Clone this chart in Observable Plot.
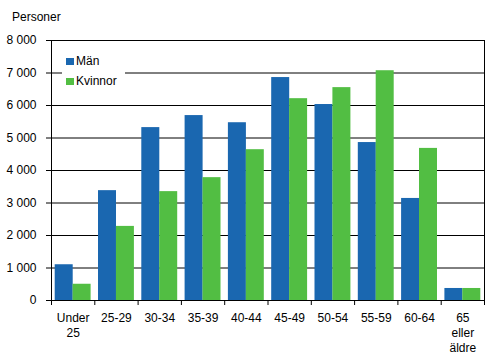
<!DOCTYPE html>
<html>
<head>
<meta charset="utf-8">
<script src="https://cdn.jsdelivr.net/npm/d3@7"></script>
<script src="https://cdn.jsdelivr.net/npm/@observablehq/plot@0.6"></script>
<style>
  html, body { margin: 0; padding: 0; background: #fff; }
  #wrap { position: relative; width: 496px; height: 361px; font-family: "Liberation Sans", Arial, sans-serif; font-size: 12px; color: #000; }
  #title { position: absolute; left: 12px; top: 10px; line-height: 14px; }
  #legend { position: absolute; left: 62px; top: 50px; width: 63px; height: 42px; background: #fff; }
  .item { position: absolute; left: 4px; height: 14px; line-height: 14px; white-space: nowrap; }
  .sw { display: inline-block; width: 8px; height: 7px; margin-right: 2px; vertical-align: 0px; }
</style>
</head>
<body>
<div id="wrap">
  <div id="chart"></div>
  <div id="title">Personer</div>
  <div id="legend"></div>
</div>
<script>
const categories = ["Under\n25", "25-29", "30-34", "35-39", "40-44", "45-49", "50-54", "55-59", "60-64", "65\neller\näldre"];
const men   = [1100, 3380, 5320, 5690, 5470, 6860, 6030, 4860, 3140, 370];
const women = [500, 2280, 3350, 3780, 4640, 6210, 6550, 7070, 4680, 370];
const yTicks = [0, 1000, 2000, 3000, 4000, 5000, 6000, 7000, 8000];
const seriesNames = ["Män", "Kvinnor"];
const colors = ["#1a67b0", "#52be43"];

const data = categories.map((c, i) => ({i, c, men: men[i], women: women[i]}));
const fmt = d => d3.format(",")(d).replace(/,/g, " ");

const chart = Plot.plot({
  width: 496, height: 361,
  marginLeft: 51, marginRight: 12, marginTop: 40, marginBottom: 61,
  style: {fontFamily: "'Liberation Sans', Arial, sans-serif", fontSize: "12px", color: "#000", background: "#fff"},
  x: {domain: [0, categories.length], label: null, axis: null},
  y: {domain: [0, 8000], label: null, axis: null},
  marks: [
    Plot.gridY(yTicks, {stroke: "#000", strokeOpacity: 1}),
    Plot.rectY(data, {x1: "i", x2: d => d.i + 1, y: "men", fill: colors[0], insetLeft: 3.7, insetRight: 21.6}),
    Plot.rectY(data, {x1: "i", x2: d => d.i + 1, y: "women", fill: colors[1], insetLeft: 21.6, insetRight: 3.7}),
    Plot.ruleX([0, categories.length], {stroke: "#000"}),
    Plot.ruleY([0], {stroke: "#000"}),
    Plot.axisY(yTicks, {tickSize: 5, tickPadding: 10, tickFormat: fmt, label: null, stroke: "#000"}),
    Plot.axisX(d3.range(categories.length + 1), {tickSize: 5, tickFormat: () => "", label: null, stroke: "#000"}),
    Plot.axisX(d3.range(categories.length).map(i => i + 0.5), {tickSize: 0, tickPadding: 11, lineHeight: 1.25, tickFormat: d => categories[Math.floor(d)], label: null})
  ]
});
document.getElementById("chart").append(chart);

const legend = document.getElementById("legend");
seriesNames.forEach((name, k) => {
  const item = document.createElement("div");
  item.className = "item";
  item.style.top = (4 + k * 20) + "px";
  item.innerHTML = `<span class="sw" style="background:${colors[k]}"></span>${name}`;
  legend.append(item);
});
</script>
</body>
</html>
